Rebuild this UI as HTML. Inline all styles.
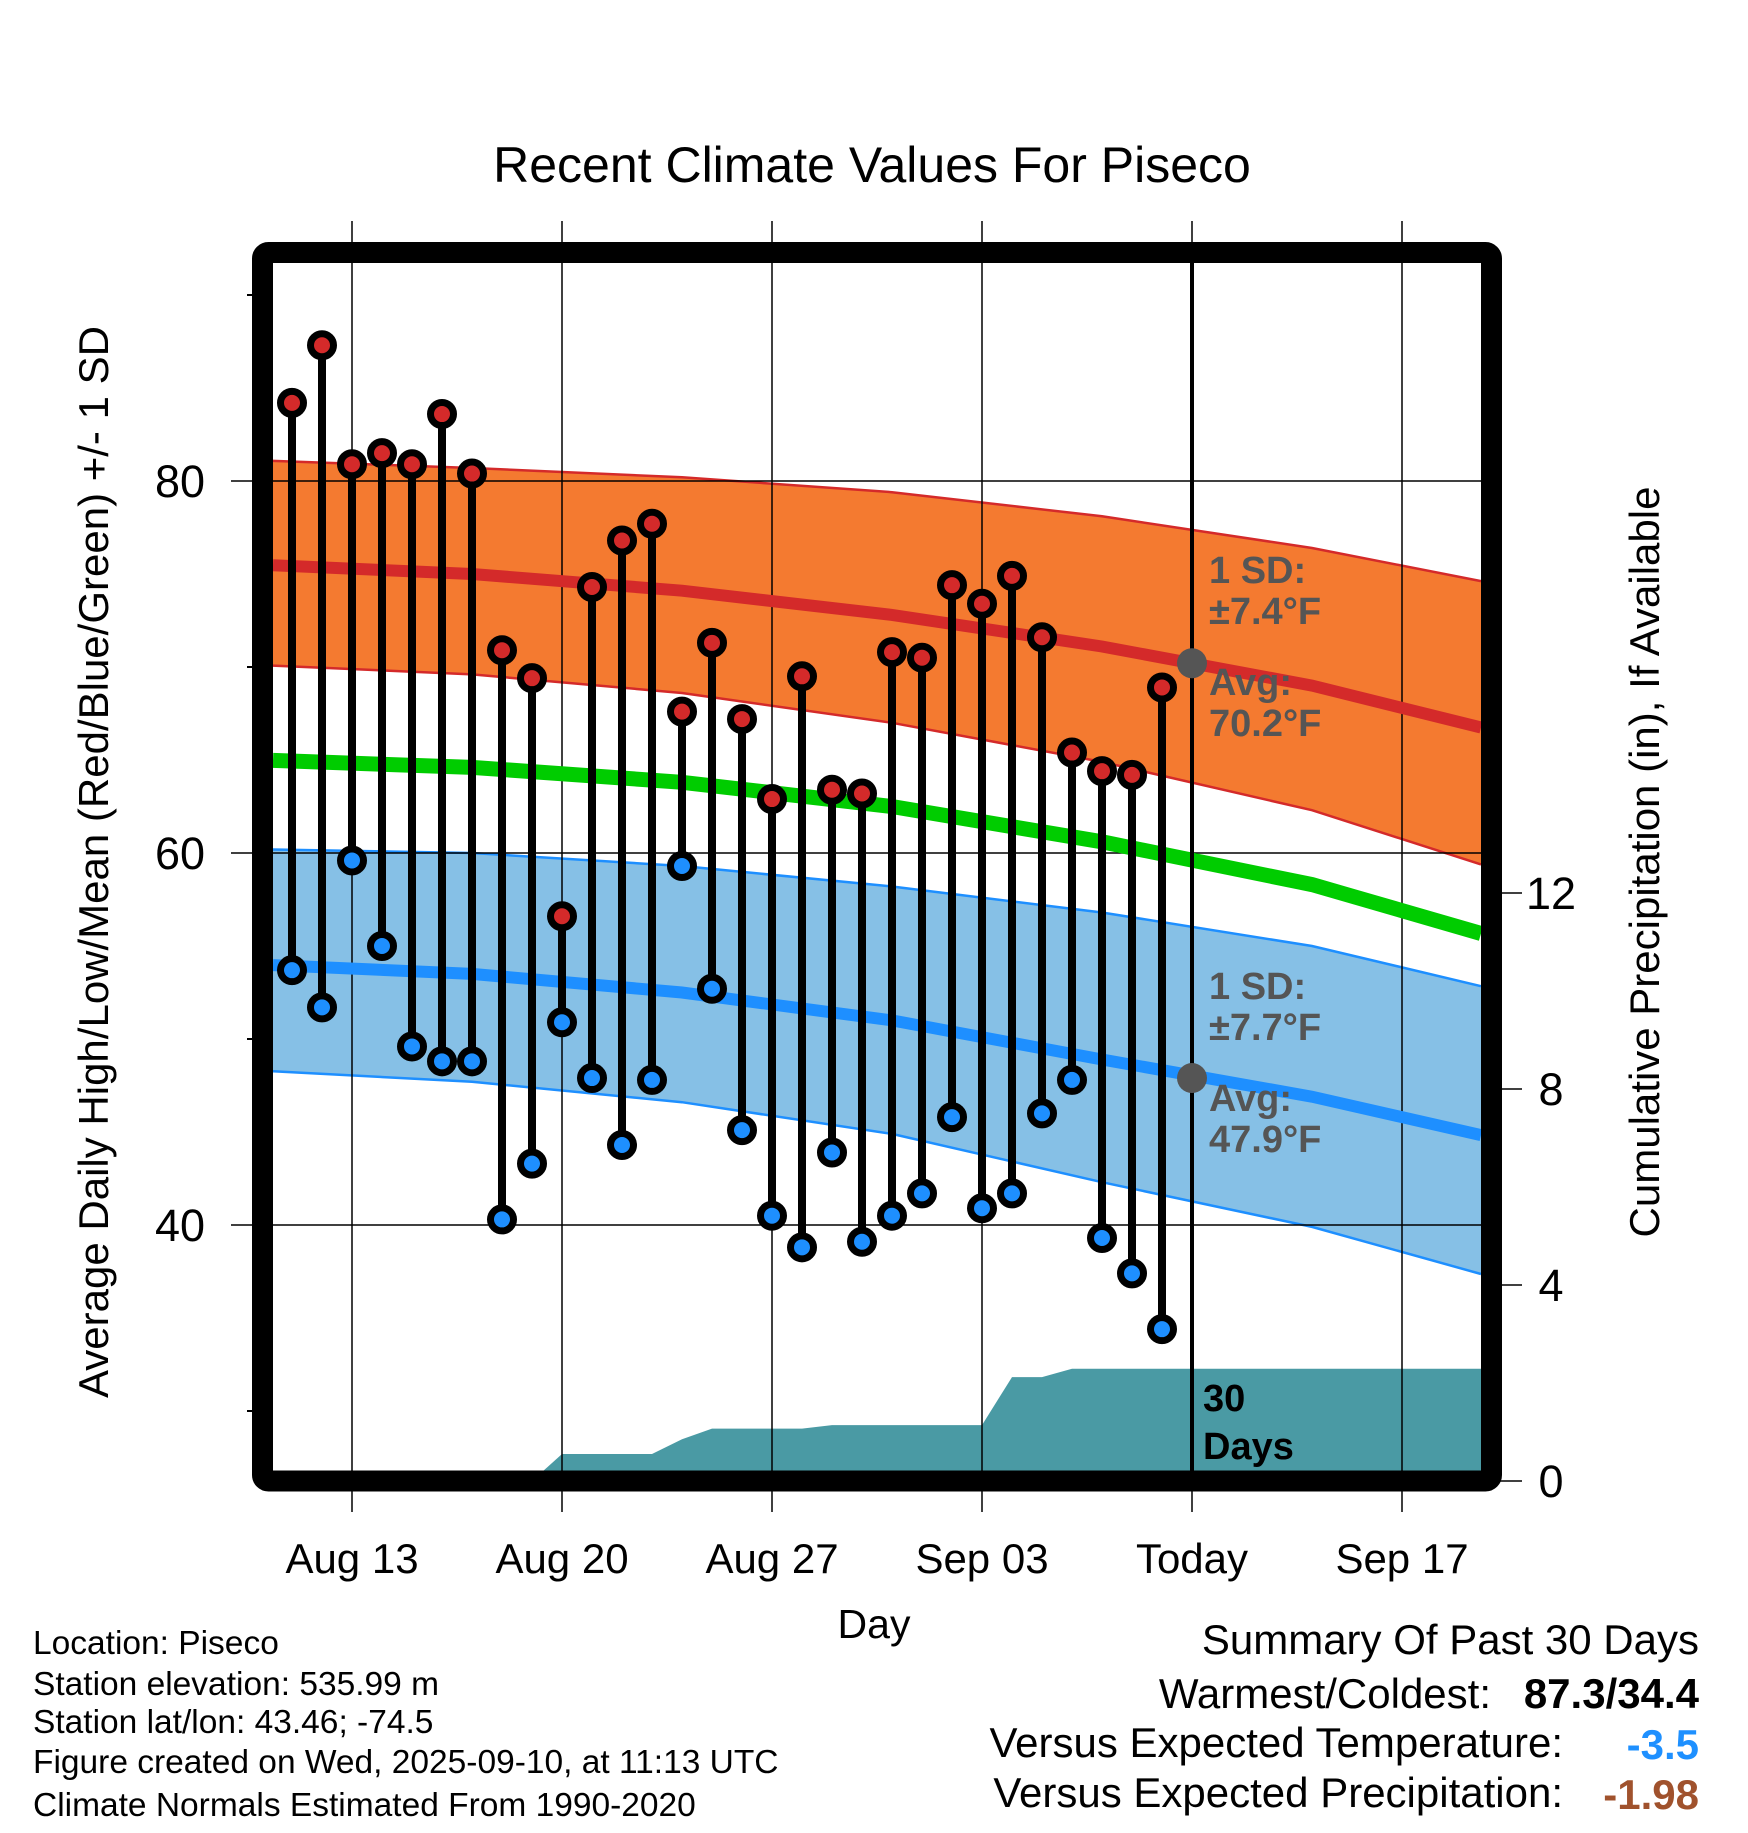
<!DOCTYPE html>
<html><head><meta charset="utf-8"><style>
html,body{margin:0;padding:0;background:#fff;}
svg text{font-family:"Liberation Sans",Arial,sans-serif;}
</style></head><body>
<svg id="c" width="1748" height="1828" viewBox="0 0 1748 1828" xmlns="http://www.w3.org/2000/svg">
<text x="872" y="182" font-size="50" text-anchor="middle">Recent Climate Values For Piseco</text>
<g id="plot" transform="translate(3,3)"></g>
<text x="874" y="1638" font-size="41" text-anchor="middle">Day</text>
<text x="0" y="0" font-size="42" text-anchor="middle" transform="translate(108,862) rotate(-90)">Average Daily High/Low/Mean (Red/Blue/Green) +/- 1 SD</text>
<text x="0" y="0" font-size="42" text-anchor="middle" transform="translate(1659,862) rotate(-90)">Cumulative Precipitation (in), If Available</text>
<g font-size="33.5">
<text x="33" y="1654">Location: Piseco</text>
<text x="33" y="1695">Station elevation: 535.99 m</text>
<text x="33" y="1733">Station lat/lon: 43.46; -74.5</text>
<text x="33" y="1773">Figure created on Wed, 2025-09-10, at 11:13 UTC</text>
<text x="33" y="1816">Climate Normals Estimated From 1990-2020</text>
</g>
<g font-size="42">
<text x="1699" y="1654" text-anchor="end">Summary Of Past 30 Days</text>
<text x="1491" y="1708" text-anchor="end">Warmest/Coldest:</text>
<text x="1699" y="1708" text-anchor="end" font-weight="bold">87.3/34.4</text>
<text x="1563" y="1757" text-anchor="end">Versus Expected Temperature:</text>
<text x="1699" y="1759" text-anchor="end" font-weight="bold" fill="#1e90ff">-3.5</text>
<text x="1563" y="1807" text-anchor="end">Versus Expected Precipitation:</text>
<text x="1699" y="1809" text-anchor="end" font-weight="bold" fill="#a0522d">-1.98</text>
</g>
</svg>
<script>
// data
const highs=[84.2,87.3,80.9,81.5,80.9,83.6,80.4,70.9,69.4,56.6,74.3,76.8,77.7,67.6,71.3,67.2,62.9,69.5,63.4,63.2,70.8,70.5,74.4,73.4,74.9,71.6,65.4,64.4,64.2,68.9];
const lows=[53.7,51.7,59.6,55.0,49.6,48.8,48.8,40.3,43.3,50.9,47.9,44.3,47.8,59.3,52.7,45.1,40.5,38.8,43.9,39.1,40.5,41.7,45.8,40.9,41.7,46.0,47.8,39.3,37.4,34.4];
const precipCum=[0,0,0,0,0,0,0,0,0,0.55,0.55,0.55,0.55,0.85,1.07,1.07,1.07,1.07,1.14,1.14,1.14,1.14,1.14,1.14,2.12,2.12,2.29,2.29,2.29,2.29];
const normDays=[-3,4,11,18,25,32,38];
const highMean=[75.5,75.0,74.1,72.8,71.1,69.0,66.6];
const highUpper=[81.1,80.7,80.2,79.4,78.1,76.4,74.5];
const highLower=[70.1,69.6,68.6,67.0,64.9,62.3,59.2];
const meanNorm=[65.0,64.6,63.8,62.5,60.6,58.3,55.5];
const lowMean=[54.0,53.5,52.5,51.0,48.9,46.9,44.7];
const lowUpper=[60.2,60.0,59.3,58.2,56.8,55.0,52.7];
const lowLower=[48.3,47.7,46.6,44.9,42.3,39.9,37.2];
const xTickLabels=["Aug 13","Aug 20","Aug 27","Sep 03","Today","Sep 17"];
const yTicks=[40,60,80];
const y2Ticks=[0,4,8,12];

const NS="http://www.w3.org/2000/svg";
const g=document.getElementById('plot');
const L=270,R=1478,T=260,B=1468;
const xd=d=>349+d*30;
const yT=v=>478+(80-v)*18.6;
const yP=v=>1478-v*49;
function mk(tag,a,parent){const e=document.createElementNS(NS,tag);for(const k in a)e.setAttribute(k,a[k]);(parent||g).appendChild(e);return e;}
function clipPts(vals){
  const pts=normDays.map((d,i)=>[xd(d),yT(vals[i])]);
  const out=[];
  for(let i=0;i<pts.length-1;i++){
    const [x1,y1]=pts[i],[x2,y2]=pts[i+1];
    const interp=x=>[x,y1+(y2-y1)*(x-x1)/(x2-x1)];
    if(x2<L||x1>R)continue;
    out.push(x1<L?interp(L):[x1,y1]);
    if(x2>R){out.push(interp(R));}
    else if(i===pts.length-2)out.push([x2,y2]);
  }
  return out;
}
const ps=p=>p.map(q=>q[0].toFixed(1)+','+q[1].toFixed(1)).join(' ');

let e;
const hu=clipPts(highUpper),hl=clipPts(highLower);
e=mk('polygon',{points:ps(hu)+' '+ps(hl.slice().reverse()),fill:'#f47a30'});


[hu,hl].forEach(p=>{e=mk('polyline',{points:ps(p),fill:'none',stroke:'#d42a2a','stroke-width':2.5});

});
const lu=clipPts(lowUpper),ll=clipPts(lowLower);
e=mk('polygon',{points:ps(lu)+' '+ps(ll.slice().reverse()),fill:'#86c0e6'});


[lu,ll].forEach(p=>{e=mk('polyline',{points:ps(p),fill:'none',stroke:'#1e8fff','stroke-width':2.5});

});

let pp=[[L,yP(0)]];
precipCum.forEach((v,i)=>pp.push([xd(i-2),yP(v)]));
pp.push([R,yP(precipCum[precipCum.length-1])]);pp.push([R,yP(0)]);
e=mk('polygon',{points:ps(pp),fill:'#4a9aa4'});



xTickLabels.forEach((t,i)=>{const x=xd(i*7);
 e=mk('line',{x1:x,x2:x,y1:218,y2:1509,stroke:'#000','stroke-width':1.5});
 
 
 e=mk('text',{x:x,y:1570,'font-size':42,'text-anchor':'middle'});e.textContent=t;
 
 
});
yTicks.forEach(v=>{const y=yT(v);
 e=mk('line',{x1:228,x2:R,y1:y,y2:y,stroke:'#000','stroke-width':1.5});
 
 
 e=mk('text',{x:202,y:y+16,'font-size':45,'text-anchor':'end'});e.textContent=v;
 
 
});
[30,50,70,90].forEach(v=>{const y=yT(v);
 e=mk('line',{x1:244,x2:260,y1:y,y2:y,stroke:'#000','stroke-width':2});
 
 });
y2Ticks.forEach(v=>{const y=yP(v);
 e=mk('line',{x1:1488,x2:1519,y1:y,y2:y,stroke:'#000','stroke-width':1.5});
 
 
 e=mk('text',{x:1548,y:y+16,'font-size':45,'text-anchor':'middle'});e.textContent=v;
 
 
});

[[highMean,'#d42a2a',12,'high-normal-line'],[meanNorm,'#00cc00',15,'mean-normal-line'],[lowMean,'#1e8fff',12,'low-normal-line']].forEach(a=>{
 e=mk('polyline',{points:ps(clipPts(a[0])),fill:'none',stroke:a[1],'stroke-width':a[2]});
 
 
});

e=mk('line',{x1:xd(28),x2:xd(28),y1:T,y2:B,stroke:'#000','stroke-width':4});



highs.forEach((h,i)=>{const x=xd(i-2);
 e=mk('line',{x1:x,x2:x,y1:yT(h),y2:yT(lows[i]),stroke:'#000','stroke-width':8});
 
 
});
highs.forEach((h,i)=>{const x=xd(i-2);
 e=mk('circle',{cx:x,cy:yT(h),r:11.5,fill:'#d42a2a',stroke:'#000','stroke-width':7});
 
 
 e=mk('circle',{cx:x,cy:yT(lows[i]),r:11.5,fill:'#1e8fff',stroke:'#000','stroke-width':7});
 
 
});

[70.2,47.9].forEach(v=>{e=mk('circle',{cx:xd(28),cy:yT(v),r:15,fill:'#555'});
 
 });

function txt(s,x,y,sz,col,name){e=mk('text',{x:x,y:y,'font-size':sz,'font-weight':'bold',fill:col});e.textContent=s;
 
 }
txt('1 SD:',1206,580,38,'#555','high-sd-label');
txt('±7.4°F',1206,621,38,'#555','high-sd-value');
txt('Avg:',1206,692,38,'#555','high-avg-label');
txt('70.2°F',1206,733,38,'#555','high-avg-value');
txt('1 SD:',1206,996,38,'#555','low-sd-label');
txt('±7.7°F',1206,1037,38,'#555','low-sd-value');
txt('Avg:',1206,1108,38,'#555','low-avg-label');
txt('47.9°F',1206,1149,38,'#555','low-avg-value');
txt('30',1200,1408,38,'#000','precip-days-label');
txt('Days',1200,1456,38,'#000','precip-days-label2');

e=mk('rect',{x:259.5,y:249.5,width:1229,height:1228.5,rx:6,fill:'none',stroke:'#000','stroke-width':21});


</script>
</body></html>
